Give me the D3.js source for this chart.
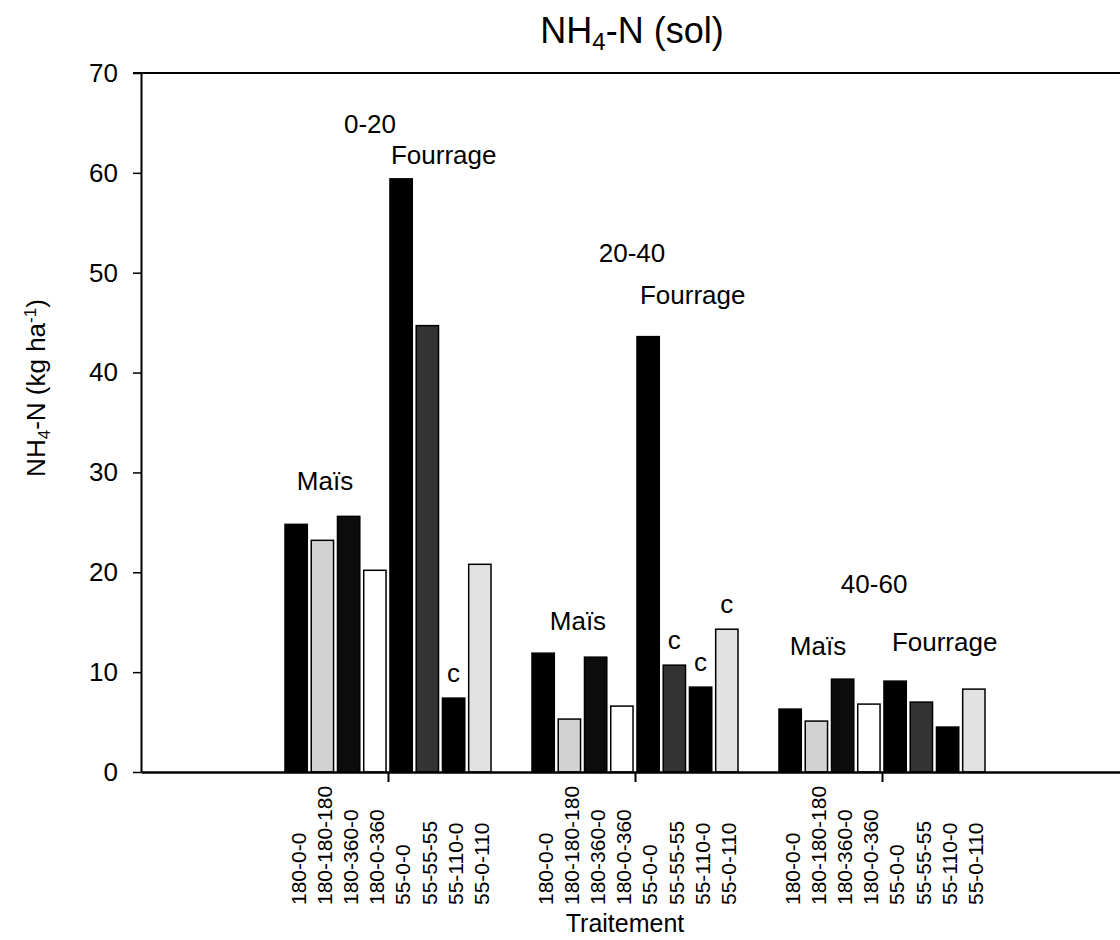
<!DOCTYPE html>
<html>
  <head>
    <meta charset="utf-8">
    <title>NH4-N (sol)</title>
    <script src="https://cdnjs.cloudflare.com/ajax/libs/d3/7.8.5/d3.min.js"></script>
    <style type="text/css">
        html, body{
            padding: 0px;
            margin: 0px;
            background: #fff;
        }
        svg text{
            font-family: "Liberation Sans", Arial, sans-serif;
            fill: #000;
        }
    </style>
  </head>
  <body>
    <div id="vis"></div>
    <script type="text/javascript">

        // data
        var depths = ["0-20", "20-40", "40-60"]
        var treatments = ["180-0-0", "180-180-180", "180-360-0", "180-0-360",
                          "55-0-0", "55-55-55", "55-110-0", "55-0-110"]
        var nh4_0_20  = [24.8, 23.2, 25.6, 20.2, 59.4, 44.7, 7.4, 20.8]
        var nh4_20_40 = [11.9, 5.3, 11.5, 6.6, 43.6, 10.7, 8.5, 14.3]
        var nh4_40_60 = [6.3, 5.1, 9.3, 6.8, 9.1, 7.0, 4.5, 8.3]
        // bars flagged with a "c"
        var flags = [[6], [5, 6, 7], []]
        var yTicks = [0, 10, 20, 30, 40, 50, 60, 70]
        // text notes: x in group units, y in kg/ha
        var notes = [
            {text: "Maïs",     x: 0.745, y: 28.2, anchor: "middle"},
            {text: "0-20",     x: 0.927, y: 64.0, anchor: "middle"},
            {text: "Fourrage", x: 1.012, y: 60.9, anchor: "start"},
            {text: "Maïs",     x: 1.769, y: 14.2, anchor: "middle"},
            {text: "20-40",    x: 1.988, y: 51.1, anchor: "middle"},
            {text: "Fourrage", x: 2.020, y: 46.9, anchor: "start"},
            {text: "Maïs",     x: 2.741, y: 11.7, anchor: "middle"},
            {text: "40-60",    x: 2.968, y: 17.9, anchor: "middle"},
            {text: "Fourrage", x: 3.040, y: 12.1, anchor: "start"}
        ]

        var series = [nh4_0_20, nh4_20_40, nh4_40_60]
        var fills = ["#000", "#d2d2d2", "#0c0c0c", "#fff", "#000", "#333", "#000", "#e2e2e2"]

        var width = 1120, height = 940

        var svg = d3.select("#vis").append("svg")
            .attr("width", width)
            .attr("height", height)

        var x0 = d3.scaleLinear().domain([0, 4]).range([141, 1129])
        var x1 = d3.scaleBand().domain(d3.range(treatments.length))
            .range([-103, 103]).paddingInner(0.15)
        var y = d3.scaleLinear().domain([0, 70]).range([772, 73])

        // top frame line
        svg.append("line")
            .attr("x1", 133).attr("x2", width)
            .attr("y1", y(70)).attr("y2", y(70))
            .attr("stroke", "#000").attr("stroke-width", 2)

        // bars
        var g = svg.selectAll("g.depth")
            .data(series)
            .enter().append("g")
            .attr("class", "depth")
            .attr("transform", function(d, i){ return "translate(" + x0(i + 1) + ",0)" })

        g.selectAll("rect")
            .data(function(d){ return d })
            .enter().append("rect")
            .attr("x", function(d, i){ return x1(i) })
            .attr("width", x1.bandwidth())
            .attr("y", function(d){ return y(d) })
            .attr("height", function(d){ return y(0) - y(d) })
            .attr("fill", function(d, i){ return fills[i] })
            .attr("stroke", "#000")
            .attr("stroke-width", 1.5)

        // "c" marks
        g.selectAll("text.flag")
            .data(function(d, gi){ return flags[gi].map(function(k){ return {k: k, v: d[k]} }) })
            .enter().append("text")
            .attr("class", "flag")
            .attr("x", function(d){ return x1(d.k) + x1.bandwidth() / 2 })
            .attr("y", function(d){ return y(d.v) - 16 })
            .attr("text-anchor", "middle")
            .style("font-size", "26px")
            .text("c")

        // treatment labels under each bar
        g.selectAll("text.trt")
            .data(treatments)
            .enter().append("text")
            .attr("class", "trt")
            .attr("transform", function(d, i){
                return "translate(" + (x1(i) + x1.bandwidth() / 2 + 2) + ",905) rotate(-90)"
            })
            .attr("dy", "0.35em")
            .style("font-size", "21px")
            .text(function(d){ return d })

        // axes
        var yAxis = d3.axisLeft(y).tickValues(yTicks).tickSize(8).tickPadding(15).tickSizeOuter(0)
        svg.append("g")
            .attr("transform", "translate(" + x0(0) + ",0)")
            .call(yAxis)
            .call(function(a){
                a.select(".domain").attr("stroke-width", 2)
                a.selectAll(".tick line").attr("stroke-width", 1.5)
                a.selectAll("text").style("font-size", "26px").style("font-family", null)
            })

        var xAxis = d3.axisBottom(x0).tickValues([1, 2, 3]).tickSize(10).tickSizeOuter(0).tickFormat("")
        svg.append("g")
            .attr("transform", "translate(0," + y(0) + ")")
            .call(xAxis)
            .call(function(a){
                a.select(".domain").attr("stroke-width", 2.5)
                a.selectAll(".tick line").attr("stroke-width", 2)
            })

        // notes
        svg.selectAll("text.note")
            .data(notes)
            .enter().append("text")
            .attr("class", "note")
            .attr("x", function(d){ return x0(d.x) })
            .attr("y", function(d){ return y(d.y) })
            .attr("text-anchor", function(d){ return d.anchor })
            .style("font-size", "26px")
            .text(function(d){ return d.text })

        // title
        var title = svg.append("text")
            .attr("x", 632).attr("y", 43)
            .attr("text-anchor", "middle")
            .style("font-size", "36px")
        title.append("tspan").text("NH")
        title.append("tspan").attr("baseline-shift", "-30%").style("font-size", "24px").text("4")
        title.append("tspan").text("-N (sol)")

        // y label
        var ylab = svg.append("text")
            .attr("transform", "translate(45,388) rotate(-90)")
            .attr("text-anchor", "middle")
            .style("font-size", "26px")
        ylab.append("tspan").text("NH")
        ylab.append("tspan").attr("baseline-shift", "-30%").style("font-size", "17px").text("4")
        ylab.append("tspan").text("-N (kg ha")
        ylab.append("tspan").attr("baseline-shift", "super").style("font-size", "17px").text("-1")
        ylab.append("tspan").text(")")

        // x label
        svg.append("text")
            .attr("x", 625).attr("y", 932)
            .attr("text-anchor", "middle")
            .style("font-size", "25px")
            .text("Traitement")

    </script>
  </body>
</html>
